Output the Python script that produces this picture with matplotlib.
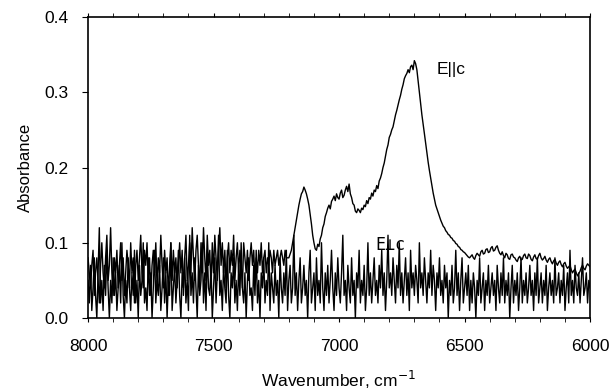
import matplotlib.pyplot as plt
import numpy as np
from matplotlib.ticker import MultipleLocator

plt.rcParams['font.family'] = ['Liberation Sans', 'DejaVu Sans']

# wavenumber grid, 5 cm-1 steps from 8000 down to 6000
wavenumber = np.arange(8000, 5999, -5)

# E parallel c
e_par = [
    0.08, 0.06, 0.04, 0.07, 0.09, 0.03, 0.06, 0.08, 0.05, 0.02,
    0.07, 0.10, 0.06, 0.04, 0.08, 0.11, 0.05, 0.07, 0.12, 0.06,
    0.03, 0.08, 0.06, 0.09, 0.04, 0.07, 0.10, 0.05, 0.08, 0.03,
    0.06, 0.09, 0.07, 0.04, 0.10, 0.06, 0.08, 0.02, 0.07, 0.09,
    0.05, 0.08, 0.11, 0.06, 0.04, 0.09, 0.07, 0.10, 0.05, 0.08,
    0.03, 0.07, 0.09, 0.06, 0.10, 0.04, 0.08, 0.06, 0.11, 0.07,
    0.04, 0.09, 0.06, 0.08, 0.03, 0.07, 0.10, 0.05, 0.09, 0.06,
    0.08, 0.04, 0.07, 0.10, 0.06, 0.09, 0.03, 0.08, 0.11, 0.05,
    0.07, 0.10, 0.06, 0.12, 0.08, 0.05, 0.09, 0.11, 0.07, 0.04,
    0.10, 0.06, 0.12, 0.08, 0.05, 0.11, 0.07, 0.09, 0.04, 0.10,
    0.06, 0.11, 0.08, 0.05, 0.09, 0.12, 0.07, 0.10, 0.06, 0.09,
    0.04, 0.08, 0.10, 0.06, 0.09, 0.07, 0.11, 0.05, 0.08, 0.10,
    0.06, 0.09, 0.07, 0.04, 0.10, 0.08, 0.06, 0.09, 0.05, 0.08,
    0.10, 0.07, 0.09, 0.05, 0.08, 0.06, 0.09, 0.07, 0.10, 0.06,
    0.08, 0.09, 0.06, 0.08, 0.07, 0.09, 0.08, 0.06, 0.09, 0.07,
    0.08, 0.09, 0.07, 0.08, 0.09, 0.08, 0.07, 0.09, 0.08, 0.08,
    0.08,
    0.085, 0.09, 0.10, 0.11, 0.12, 0.13, 0.14, 0.15, 0.158, 0.165,
    0.168, 0.174, 0.17, 0.165, 0.158, 0.15, 0.138, 0.125, 0.11, 0.10,
    0.092, 0.09, 0.098, 0.095, 0.105, 0.11, 0.12, 0.125, 0.135, 0.14,
    0.146, 0.15, 0.145, 0.155, 0.158, 0.162, 0.156, 0.165, 0.16, 0.158,
    0.166, 0.17, 0.16, 0.163, 0.17, 0.175, 0.168, 0.178, 0.165, 0.16,
    0.152, 0.15, 0.142, 0.14, 0.145, 0.143, 0.14, 0.146, 0.144, 0.15,
    0.148, 0.156, 0.152, 0.16, 0.158, 0.166, 0.162, 0.17, 0.168, 0.176,
    0.172, 0.182, 0.186, 0.192, 0.20, 0.206, 0.215, 0.224, 0.23, 0.24,
    0.244, 0.25, 0.254, 0.262, 0.27, 0.276, 0.283, 0.29, 0.296, 0.304,
    0.31, 0.318, 0.322, 0.325, 0.33, 0.326, 0.334, 0.336, 0.33, 0.342,
    0.338, 0.33, 0.315, 0.30, 0.285, 0.27, 0.258, 0.245, 0.232, 0.22,
    0.207, 0.196, 0.186, 0.176, 0.166, 0.158, 0.15, 0.145, 0.14, 0.135,
    0.13, 0.126, 0.122, 0.12, 0.116, 0.114, 0.111, 0.11, 0.107, 0.106,
    0.103, 0.102, 0.099, 0.098, 0.095, 0.094, 0.091, 0.09, 0.088, 0.087,
    0.085, 0.083, 0.081, 0.08, 0.082, 0.084, 0.08, 0.078, 0.083, 0.086,
    0.084, 0.082, 0.088, 0.09, 0.085, 0.086, 0.091, 0.092, 0.087, 0.088,
    0.093, 0.095, 0.089, 0.09, 0.094, 0.096, 0.09, 0.086, 0.084, 0.088,
    0.083, 0.08, 0.086, 0.084, 0.079, 0.078, 0.084, 0.085, 0.081, 0.08,
    0.077, 0.075, 0.08, 0.082, 0.077, 0.078, 0.083, 0.085, 0.08, 0.079,
    0.085, 0.083, 0.078, 0.076, 0.081, 0.084, 0.079, 0.078, 0.083, 0.086,
    0.08, 0.077, 0.079, 0.082, 0.077, 0.074, 0.078, 0.08, 0.075, 0.072,
    0.076, 0.078, 0.073, 0.07, 0.074, 0.076, 0.071, 0.068, 0.072, 0.074,
    0.069, 0.066, 0.068, 0.07, 0.064, 0.06, 0.063, 0.065, 0.06, 0.056,
    0.059, 0.062, 0.067, 0.07, 0.066, 0.064, 0.069, 0.072, 0.07, 0.068,
]

# E perpendicular c
e_perp = [
    0.05, 0.02, 0.07, 0.01, 0.04, 0.08, 0.03, 0.00, 0.06, 0.12,
    0.02, 0.05, 0.01, 0.07, 0.03, 0.09, 0.04, 0.00, 0.05, 0.02,
    0.08, 0.03, 0.06, 0.01, 0.04, 0.07, 0.02, 0.10, 0.03, 0.00,
    0.05, 0.02, 0.08, 0.04, 0.01, 0.06, 0.03, 0.09, 0.02, 0.05,
    0.00, 0.07, 0.03, 0.05, 0.10, 0.02, 0.04, 0.01, 0.08, 0.03,
    0.06, 0.00, 0.04, 0.09, 0.02, 0.05, 0.03, 0.07, 0.01, 0.04,
    0.08, 0.02, 0.06, 0.00, 0.05, 0.03, 0.10, 0.01, 0.04, 0.07,
    0.02, 0.05, 0.09, 0.03, 0.00, 0.06, 0.04, 0.08, 0.02, 0.05,
    0.01, 0.11, 0.03, 0.06, 0.02, 0.08, 0.04, 0.00, 0.07, 0.03,
    0.05, 0.10, 0.02, 0.06, 0.01, 0.09, 0.04, 0.03, 0.07, 0.00,
    0.04, 0.08, 0.02, 0.06, 0.11, 0.03, 0.05, 0.01, 0.07, 0.04,
    0.02, 0.09, 0.03, 0.00, 0.06, 0.04, 0.08, 0.02, 0.05, 0.01,
    0.07, 0.03, 0.10, 0.04, 0.02, 0.06, 0.00, 0.05, 0.08, 0.03,
    0.04, 0.01, 0.07, 0.03, 0.09, 0.02, 0.05, 0.00, 0.06, 0.04,
    0.08, 0.02, 0.05, 0.03, 0.10, 0.01, 0.06, 0.04, 0.02, 0.07,
    0.03, 0.05, 0.00, 0.08, 0.04, 0.02, 0.06, 0.03, 0.09, 0.01,
    0.05, 0.07, 0.02, 0.04, 0.11, 0.03, 0.06, 0.01, 0.05, 0.08,
    0.02, 0.04, 0.07, 0.03, 0.05, 0.00, 0.06, 0.09, 0.02, 0.04,
    0.06, 0.01, 0.08, 0.03, 0.05, 0.02, 0.10, 0.04, 0.01, 0.06,
    0.03, 0.07, 0.02, 0.05, 0.09, 0.04, 0.01, 0.06, 0.03, 0.08,
    0.04, 0.02, 0.06, 0.11, 0.03, 0.05, 0.01, 0.07, 0.04, 0.02,
    0.08, 0.03, 0.05, 0.00, 0.06, 0.04, 0.09, 0.02, 0.05, 0.03,
    0.07, 0.01, 0.04, 0.10, 0.03, 0.06, 0.02, 0.05, 0.08, 0.03,
    0.05, 0.02, 0.07, 0.04, 0.09, 0.03, 0.06, 0.01, 0.05, 0.11,
    0.04, 0.06, 0.03, 0.08, 0.05, 0.02, 0.07, 0.04, 0.10, 0.03,
    0.06, 0.02, 0.05, 0.08, 0.03, 0.06, 0.01, 0.09, 0.04, 0.06,
    0.03, 0.07, 0.05, 0.02, 0.10, 0.04, 0.06, 0.03, 0.08, 0.05,
    0.02, 0.06, 0.04, 0.09, 0.03, 0.07, 0.05, 0.01, 0.06, 0.04,
    0.08, 0.03, 0.05, 0.02, 0.07, 0.04, 0.06, 0.00, 0.05, 0.03,
    0.07, 0.02, 0.04, 0.09, 0.03, 0.06, 0.01, 0.05, 0.08, 0.02,
    0.04, 0.06, 0.03, 0.07, 0.01, 0.05, 0.02, 0.06, 0.04, 0.00,
    0.05, 0.03, 0.08, 0.02, 0.04, 0.06, 0.01, 0.05, 0.03, 0.07,
    0.02, 0.04, 0.06, 0.03, 0.05, 0.01, 0.07, 0.04, 0.02, 0.06,
    0.03, 0.08, 0.02, 0.05, 0.03, 0.06, 0.00, 0.04, 0.07, 0.02,
    0.05, 0.03, 0.06, 0.01, 0.04, 0.08, 0.02, 0.05, 0.03, 0.06,
    0.02, 0.04, 0.07, 0.03, 0.05, 0.01, 0.06, 0.03, 0.08, 0.02,
    0.04, 0.06, 0.02, 0.05, 0.03, 0.07, 0.01, 0.04, 0.06, 0.03,
    0.05, 0.02, 0.08, 0.03, 0.04, 0.06, 0.02, 0.05, 0.03, 0.07,
    0.01, 0.04, 0.06, 0.02, 0.09, 0.03, 0.05, 0.02, 0.07, 0.04,
    0.03, 0.06, 0.02, 0.05, 0.08, 0.03, 0.04, 0.06, 0.02, 0.05,
    0.04,
]

fig = plt.figure(figsize=(6.13, 3.9), dpi=100)
ax = fig.add_axes([0.1436, 0.1846, 0.819, 0.7718])

ax.plot(wavenumber, e_par, color='black', linewidth=1.0)
ax.plot(wavenumber, e_perp, color='black', linewidth=1.0)

ax.set_xlim(8000, 6000)
ax.set_ylim(0.0, 0.4)
ax.xaxis.set_major_locator(MultipleLocator(500))
ax.xaxis.set_minor_locator(MultipleLocator(100))
ax.yaxis.set_major_locator(MultipleLocator(0.1))
ax.yaxis.set_major_formatter(plt.FormatStrFormatter('%.1f'))

ax.tick_params(axis='x', which='both', direction='out', length=3, top=True,
               labelsize=12.5, pad=12)
ax.tick_params(axis='y', which='major', direction='out', length=4,
               labelsize=12.5, right=False, pad=10)
for s in ax.spines.values():
    s.set_linewidth(1.2)

ax.set_xlabel('Wavenumber, cm$^{-1}$', fontsize=12.5, labelpad=11)
ax.set_ylabel('Absorbance', fontsize=12, labelpad=8)

ax.text(6610, 0.33, 'E||c', fontsize=12.5, va='center', ha='left')
ax.text(6857, 0.097, 'E\u22a5c', fontsize=12, va='center', ha='left',
        family=['DejaVu Sans Mono', 'DejaVu Sans'])

fig.savefig('out.png', dpi=100)
